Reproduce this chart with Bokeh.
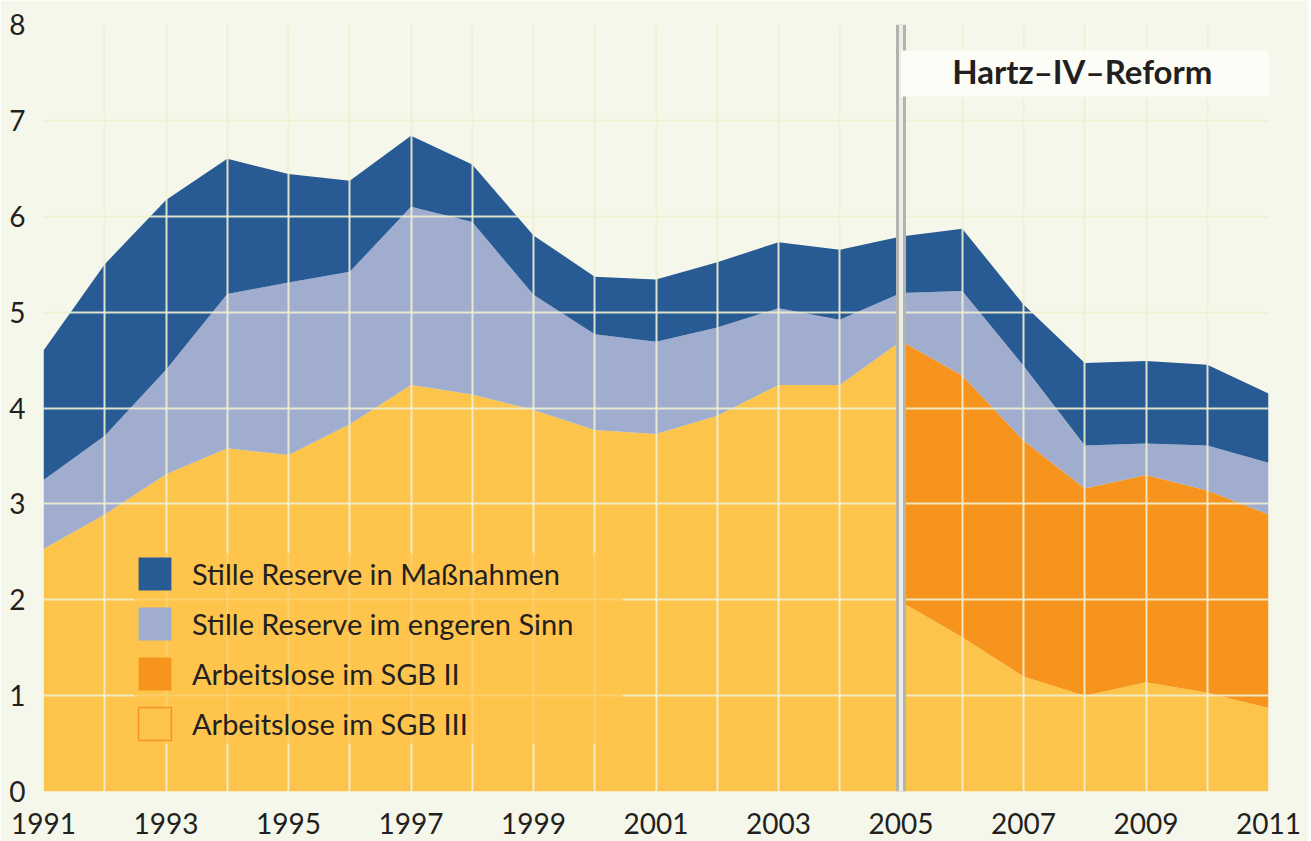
from bokeh.plotting import figure
from bokeh.models import (ColumnDataSource, Span, BoxAnnotation, Label, Legend,
                          LegendItem, FixedTicker)
from bokeh.embed import file_html
from bokeh.resources import INLINE

# ---------------- data (Mio. Personen) ----------------
jahre = list(range(1991, 2012))
reform_jahr = 2005
jahre_vor = [j for j in jahre if j <= reform_jahr]
jahre_nach = [j for j in jahre if j >= reform_jahr]

# Arbeitslose vor der Reform (gesamt, dargestellt als SGB III)
arbeitslose_vor_reform = [2.53, 2.89, 3.31, 3.58, 3.51, 3.83, 4.24, 4.14, 3.98,
                          3.77, 3.73, 3.92, 4.24, 4.24, 4.70]
# ab 2005
arbeitslose_sgb3 = [1.98, 1.61, 1.20, 1.00, 1.14, 1.03, 0.87]
arbeitslose_sgb2 = [2.72, 2.73, 2.46, 2.16, 2.16, 2.11, 2.02]
# 1991-2011
stille_reserve_eng = [0.72, 0.82, 1.09, 1.61, 1.80, 1.59, 1.86, 1.80, 1.20, 1.00,
                      0.96, 0.92, 0.80, 0.68, 0.50, 0.88, 0.78, 0.45, 0.33, 0.47, 0.54]
stille_reserve_massn = [1.35, 1.79, 1.77, 1.41, 1.13, 0.95, 0.74, 0.60, 0.62, 0.60,
                        0.65, 0.68, 0.69, 0.73, 0.59, 0.65, 0.64, 0.86, 0.86, 0.84, 0.72]

x_ticks = list(range(1991, 2012, 2))
y_ticks = list(range(0, 9))

labels = ["Stille Reserve in Maßnahmen", "Stille Reserve im engeren Sinn",
          "Arbeitslose im SGB II", "Arbeitslose im SGB III"]
reform_text = "Hartz–IV–Reform"

# ---------------- styling ----------------
BG = "#F5F7EA"
DARK_BLUE = "#285A94"
LIGHT_BLUE = "#A0ADCE"
ORANGE = "#F7941D"
YELLOW = "#FDC44C"
TXT = "#231F20"
FONT = "Lato"

# ---------------- stacking ----------------
nach_gesamt = [a + b for a, b in zip(arbeitslose_sgb3, arbeitslose_sgb2)]
arbeitslose_gesamt = arbeitslose_vor_reform[:-1] + nach_gesamt
oben_eng = [a + b for a, b in zip(arbeitslose_gesamt, stille_reserve_eng)]
oben_massn = [a + b for a, b in zip(oben_eng, stille_reserve_massn)]

src_vor = ColumnDataSource(dict(x=jahre_vor, y0=[0] * len(jahre_vor), y1=arbeitslose_vor_reform))
src_nach = ColumnDataSource(dict(x=jahre_nach, y0=[0] * len(jahre_nach),
                                 s3=arbeitslose_sgb3, s2=nach_gesamt))
src_all = ColumnDataSource(dict(x=jahre, a=arbeitslose_gesamt, e=oben_eng, m=oben_massn))

p = figure(frame_width=1225, frame_height=767, x_range=(1991, 2011), y_range=(0, 8),
           output_backend="svg", toolbar_location=None,
           min_border_left=43, min_border_top=24, min_border_right=40, min_border_bottom=50,
           background_fill_color=BG, border_fill_color=BG, outline_line_color=None)

r_gelb1 = p.varea(x="x", y1="y0", y2="y1", source=src_vor, fill_color=YELLOW)
r_gelb2 = p.varea(x="x", y1="y0", y2="s3", source=src_nach, fill_color=YELLOW)
r_orange = p.varea(x="x", y1="s3", y2="s2", source=src_nach, fill_color=ORANGE)
r_hell = p.varea(x="x", y1="a", y2="e", source=src_all, fill_color=LIGHT_BLUE)
r_dunkel = p.varea(x="x", y1="e", y2="m", source=src_all, fill_color=DARK_BLUE)

# legend swatch for SGB III (yellow with orange outline), hidden in the plot
swatch = p.quad(left=[jahre[0]], right=[jahre[-1]], top=[0], bottom=[0],
                fill_color=YELLOW, line_color=ORANGE, line_width=1.5)
swatch.visible = False

# grid
for g in (p.xgrid, p.ygrid):
    g.grid_line_color = "#EEF0D2"
    g.grid_line_alpha = 0.9
    g.grid_line_width = 2
    g.level = "guide"
p.xgrid.ticker = FixedTicker(ticks=jahre)
p.ygrid.ticker = FixedTicker(ticks=y_ticks)

# axes
p.xaxis.ticker = FixedTicker(ticks=x_ticks)
p.yaxis.ticker = FixedTicker(ticks=y_ticks)
for ax in (p.xaxis, p.yaxis):
    ax.axis_line_color = None
    ax.major_tick_line_color = None
    ax.minor_tick_line_color = None
    ax.major_label_text_font = FONT
    ax.major_label_text_font_size = "28px"
    ax.major_label_text_color = TXT
p.xaxis.major_label_standoff = 15
p.yaxis.major_label_standoff = 12

# reform line
p.add_layout(Span(location=reform_jahr, dimension="height", line_color="#B4B4AE", line_width=10))
p.add_layout(Span(location=reform_jahr, dimension="height", line_color="#EEEEE8", line_width=4))

# reform label box
p.add_layout(BoxAnnotation(left=reform_jahr, right=jahre[-1], top=7.73, bottom=7.25,
                           fill_color="#FDFDF8", fill_alpha=1, line_color=None, level="annotation"))
p.add_layout(Label(x=(reform_jahr + jahre[-1]) / 2 - 0.04, y=7.51, text=reform_text,
                   text_align="center", text_baseline="middle", text_font=FONT,
                   text_font_size="33px", text_font_style="bold", text_color=TXT))

legend = Legend(items=[
    LegendItem(label=labels[0], renderers=[r_dunkel]),
    LegendItem(label=labels[1], renderers=[r_hell]),
    LegendItem(label=labels[2], renderers=[r_orange]),
    LegendItem(label=labels[3], renderers=[swatch]),
], location=(91, 47), orientation="vertical",
    glyph_width=41, glyph_height=41, label_standoff=17, spacing=9, label_width=431,
    padding=18, margin=0, border_line_color=None,
    background_fill_color=YELLOW, background_fill_alpha=0.7,
    label_text_font=FONT, label_text_font_size="29px", label_text_color=TXT)
p.add_layout(legend)

open("out.html", "w").write(file_html(p, INLINE))
